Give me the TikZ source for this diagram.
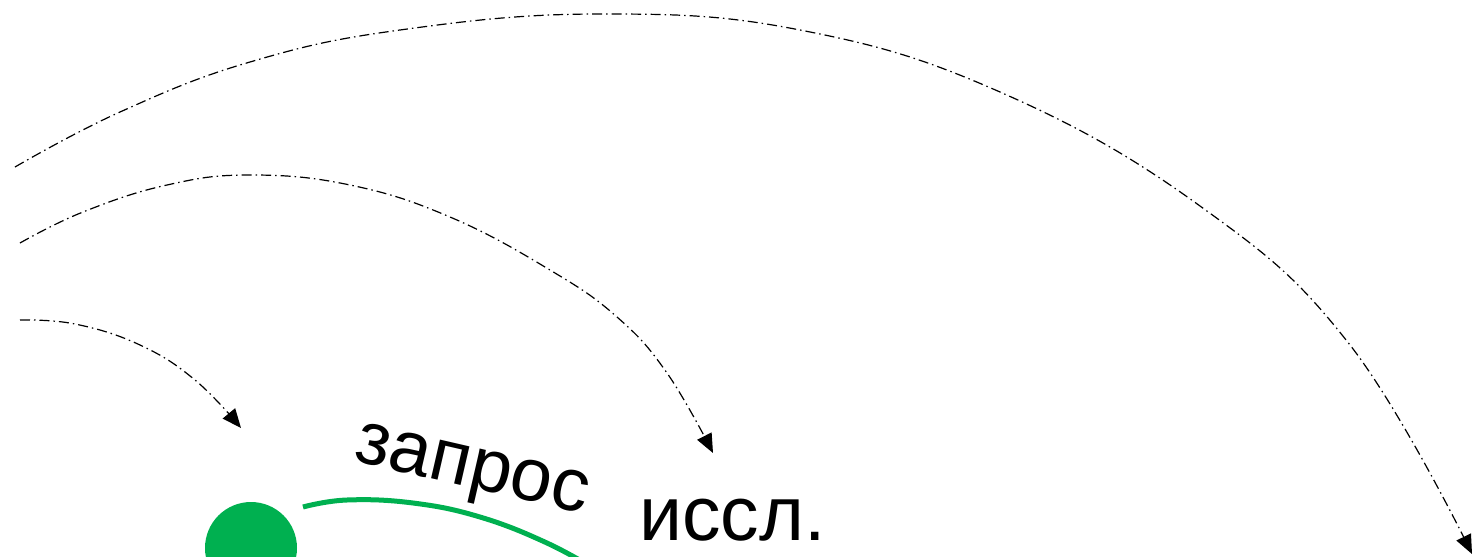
\documentclass[tikz,border=0pt]{standalone}
\usepackage{fontspec}
\setmainfont{Liberation Sans}
\usetikzlibrary{arrows.meta}
\definecolor{officegreen}{RGB}{0,176,80}
\tikzset{
  dashdotline/.style={line width=1.2pt, dash pattern=on 10pt off 4pt on 1.5pt off 4pt,
    -{Triangle[length=19pt,width=16pt]}},
  greenline/.style={officegreen, line width=5pt},
  bigtext/.style={inner sep=0pt, font=\fontsize{77}{80}\selectfont}
}
\begin{document}
\begin{tikzpicture}[x=1pt,y=-1pt]
\useasboundingbox (0,0) rectangle (1484,557);
\clip (0,0) rectangle (1484,557);
% arc 1
\coordinate (a1s) at (20,320);
\coordinate (a1e) at (241,428);
\draw[dashdotline] plot[smooth, tension=0.7] coordinates {(a1s) (75,324) (140,345) (195,380) (a1e)};
% arc 2
\coordinate (a2s) at (20,243);
\coordinate (a2e) at (713,453);
\draw[dashdotline] plot[smooth, tension=0.7] coordinates {(a2s) (83,212) (167,185) (250,175) (350,185) (450,217) (550,270) (617,317) (667,373) (a2e)};
% arc 3
\coordinate (a3s) at (15,167);
\coordinate (a3e) at (1472,554);
\draw[dashdotline] plot[smooth, tension=0.7] coordinates {(a3s) (120,112) (250,62) (400,30) (600,14) (800,30) (1000,92) (1200,206) (1350,345) (a3e)};
% green node and arc
\node[circle, fill=officegreen, minimum size=92pt, inner sep=0pt] (g) at (251,548) {};
\coordinate (gs) at (303,507);
\coordinate (ge) at (600,572);
\draw[greenline] plot[smooth, tension=0.7] coordinates {(gs) (347,500) (413,503) (480,517) (547,543) (ge)};
% texts
\node[bigtext, rotate=-13, font=\fontsize{75}{80}\selectfont] (zapros) at (471,475) {запрос};
\node[bigtext, anchor=base west] (issl) at (639,540) {иссл.};
\end{tikzpicture}
\end{document}
